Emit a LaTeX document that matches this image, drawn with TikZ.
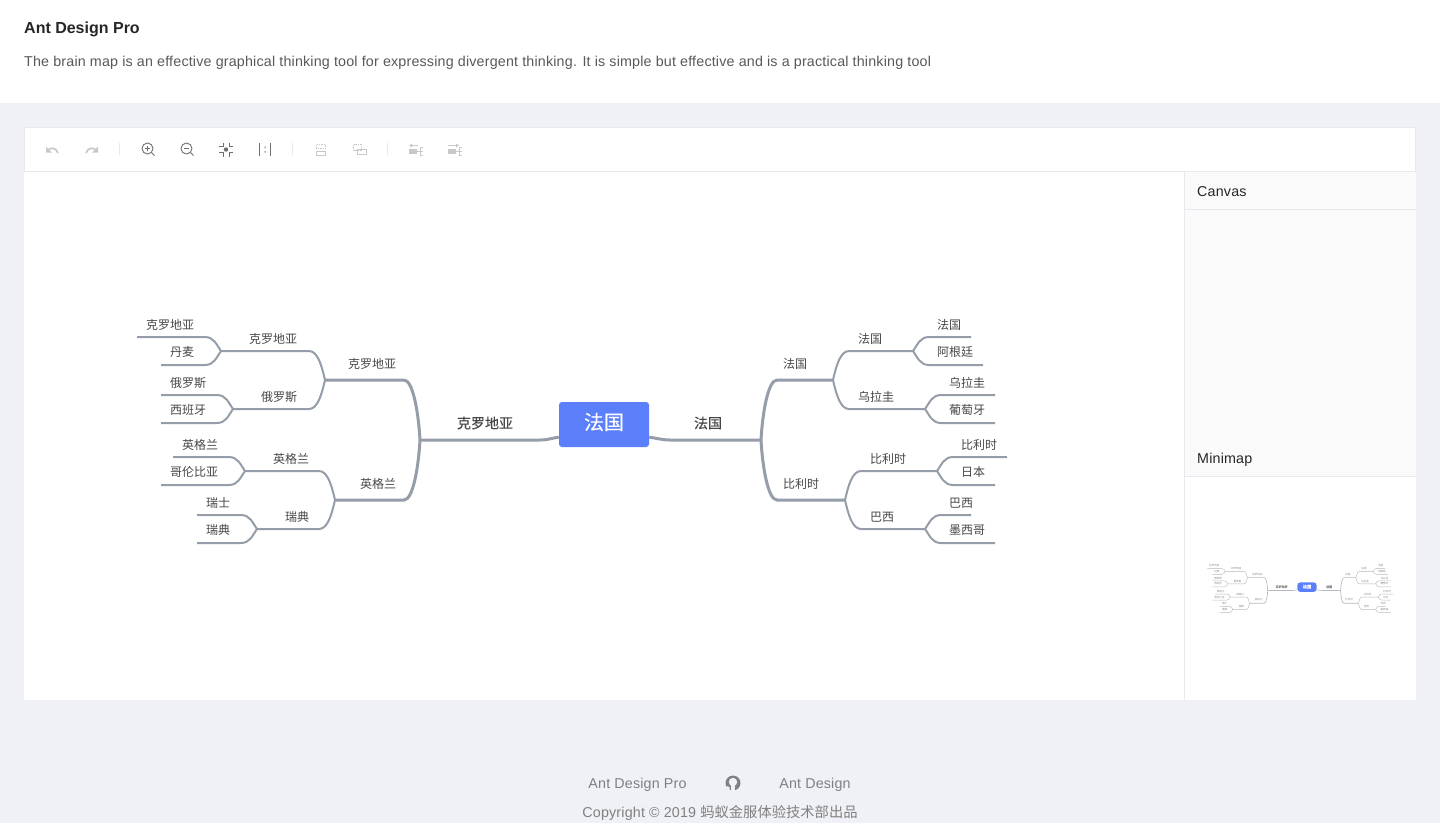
\documentclass[tikz,border=0pt]{standalone}
\usepackage{fontspec}
\setmainfont{Liberation Sans}
\newfontfamily\bodyfont[LetterSpace=1.25]{Liberation Sans}
\newfontfamily\cjk{Noto Sans CJK SC}
\newfontfamily\cjkmed[FakeBold=0.25]{Noto Sans CJK SC}
\usetikzlibrary{calc}

\definecolor{pagebg}{HTML}{F0F1F6}
\definecolor{panelbg}{HTML}{FAFAFA}
\definecolor{rule}{HTML}{E8E9EE}
\definecolor{limbcol}{HTML}{959DA8}
\definecolor{rootcol}{HTML}{5B7FFB}
\definecolor{inkdark}{HTML}{262626}
\definecolor{inkmid}{HTML}{595959}
\definecolor{inkfoot}{HTML}{808080}
\definecolor{iconon}{HTML}{707070}
\definecolor{iconoff}{HTML}{C8C8C8}

\tikzstyle{rootbox} = [rectangle, rounded corners=3pt, minimum width=90pt, minimum height=45pt, inner sep=0pt, fill=rootcol, text=white, font=\cjkmed\fontsize{20}{20}\selectfont]
\tikzstyle{mainlabel} = [inner sep=0pt, text=black!\mapink, font=\cjkmed\fontsize{14}{14}\selectfont]
\tikzstyle{sublabel} = [inner sep=0pt, text=black!\mapink, font=\cjk\fontsize{12}{12}\selectfont]
\tikzstyle{heavylimb} = [draw=limbcol!\mapfade, line width=3pt*\mapscale]
\tikzstyle{lightlimb} = [draw=limbcol!\mapfade, line width=2pt*\mapscale]
\tikzstyle{pagetext} = [inner sep=0pt, anchor=west, font=\bodyfont\fontsize{14.3}{14.3}\selectfont]
\tikzstyle{iconline} = [draw=iconon, line width=.9pt]
\tikzstyle{offline} = [draw=iconoff, line width=1pt]

% curved branch from a hub to the start of a straight run, #5 sets how fast it leaves the hub
\newcommand{\limb}[5]{\draw [#1] (#2) .. controls ($(#2)!0.45!(#2 |- #3)+(#4*#5,0)$) and ($(#2 |- #3)+(#4*7,0)$) .. ($(#2 |- #3)+(#4*16,0)$) -- (#3);}

\newcommand{\brainmap}{
    \coordinate (lefthub) at (420,440);
    \coordinate (righthub) at (761,440);
    \coordinate (croatia) at (325,380);
    \coordinate (england) at (335,500);
    \coordinate (croatiasub) at (221,351);
    \coordinate (russia) at (233,409);
    \coordinate (englandsub) at (245,471);
    \coordinate (sweden) at (257,529);
    \coordinate (croatialeaf) at (137,337);
    \coordinate (denmark) at (161,365);
    \coordinate (russialeaf) at (161,395);
    \coordinate (spain) at (161,423);
    \coordinate (englandleaf) at (173,457);
    \coordinate (colombia) at (161,485);
    \coordinate (swiss) at (197,515);
    \coordinate (swedenleaf) at (197,543);
    \coordinate (france) at (833,380);
    \coordinate (belgium) at (845,500);
    \coordinate (francesub) at (913,351);
    \coordinate (uruguay) at (925,409);
    \coordinate (belgiumsub) at (937,471);
    \coordinate (brazil) at (925,529);
    \coordinate (franceleaf) at (971,337);
    \coordinate (argentina) at (983,365);
    \coordinate (uruguayleaf) at (995,395);
    \coordinate (portugal) at (995,423);
    \coordinate (belgiumleaf) at (1007,457);
    \coordinate (japan) at (995,485);
    \coordinate (brazilleaf) at (971,515);
    \coordinate (mexico) at (995,543);

    \node (root) [rootbox] at (604,424.5) {};

    \draw [heavylimb] ([yshift=10pt]root.south west) .. controls +(-8,1) and +(8,0) .. ($(lefthub)+(120,0)$) -- (lefthub);
    \draw [heavylimb] ([yshift=10pt]root.south east) .. controls +(8,1) and +(-8,0) .. ($(righthub)+(-91,0)$) -- (righthub);
    \limb{heavylimb}{lefthub}{croatia}{-1}{1.5}
    \limb{heavylimb}{lefthub}{england}{-1}{1.5}
    \limb{heavylimb}{righthub}{france}{1}{1.5}
    \limb{heavylimb}{righthub}{belgium}{1}{1.5}
    \limb{lightlimb}{croatia}{croatiasub}{-1}{3}
    \limb{lightlimb}{croatia}{russia}{-1}{3}
    \limb{lightlimb}{england}{englandsub}{-1}{3}
    \limb{lightlimb}{england}{sweden}{-1}{3}
    \limb{lightlimb}{france}{francesub}{1}{3}
    \limb{lightlimb}{france}{uruguay}{1}{3}
    \limb{lightlimb}{belgium}{belgiumsub}{1}{3}
    \limb{lightlimb}{belgium}{brazil}{1}{3}
    \limb{lightlimb}{croatiasub}{croatialeaf}{-1}{4.5}
    \limb{lightlimb}{croatiasub}{denmark}{-1}{4.5}
    \limb{lightlimb}{russia}{russialeaf}{-1}{4.5}
    \limb{lightlimb}{russia}{spain}{-1}{4.5}
    \limb{lightlimb}{englandsub}{englandleaf}{-1}{4.5}
    \limb{lightlimb}{englandsub}{colombia}{-1}{4.5}
    \limb{lightlimb}{sweden}{swiss}{-1}{4.5}
    \limb{lightlimb}{sweden}{swedenleaf}{-1}{4.5}
    \limb{lightlimb}{francesub}{franceleaf}{1}{4.5}
    \limb{lightlimb}{francesub}{argentina}{1}{4.5}
    \limb{lightlimb}{uruguay}{uruguayleaf}{1}{4.5}
    \limb{lightlimb}{uruguay}{portugal}{1}{4.5}
    \limb{lightlimb}{belgiumsub}{belgiumleaf}{1}{4.5}
    \limb{lightlimb}{belgiumsub}{japan}{1}{4.5}
    \limb{lightlimb}{brazil}{brazilleaf}{1}{4.5}
    \limb{lightlimb}{brazil}{mexico}{1}{4.5}

    \node (roottext) [rootbox, fill=none, minimum width=0pt, minimum height=0pt] at (604,422) {法国};
    \node (lefttext) [mainlabel] at (485,423) {克罗地亚};
    \node (righttext) [mainlabel] at (708,423) {法国};
    \node (croatiatext) [sublabel] at (372,364) {克罗地亚};
    \node (englandtext) [sublabel] at (378,483.5) {英格兰};
    \node (francetext) [sublabel] at (795,364) {法国};
    \node (belgiumtext) [sublabel] at (801,483.5) {比利时};
    \node (croatiasubtext) [sublabel] at (273,339) {克罗地亚};
    \node (russiatext) [sublabel] at (279,397) {俄罗斯};
    \node (englandsubtext) [sublabel] at (291,459) {英格兰};
    \node (swedentext) [sublabel] at (297,517) {瑞典};
    \node (francesubtext) [sublabel] at (870,339) {法国};
    \node (uruguaytext) [sublabel] at (876,397) {乌拉圭};
    \node (belgiumsubtext) [sublabel] at (888,459) {比利时};
    \node (braziltext) [sublabel] at (882,517) {巴西};
    \node (croatialeaftext) [sublabel] at (170,325) {克罗地亚};
    \node (denmarktext) [sublabel] at (182,352) {丹麦};
    \node (russialeaftext) [sublabel] at (188,383) {俄罗斯};
    \node (spaintext) [sublabel] at (188,410) {西班牙};
    \node (englandleaftext) [sublabel] at (200,445) {英格兰};
    \node (colombiatext) [sublabel] at (194,472) {哥伦比亚};
    \node (swisstext) [sublabel] at (218,503) {瑞士};
    \node (swedenleaftext) [sublabel] at (218,530) {瑞典};
    \node (franceleaftext) [sublabel] at (949,325) {法国};
    \node (argentinatext) [sublabel] at (955,352) {阿根廷};
    \node (uruguayleaftext) [sublabel] at (967,383) {乌拉圭};
    \node (portugaltext) [sublabel] at (967,410) {葡萄牙};
    \node (belgiumleaftext) [sublabel] at (979,445) {比利时};
    \node (japantext) [sublabel] at (973,472) {日本};
    \node (brazilleaftext) [sublabel] at (961,503) {巴西};
    \node (mexicotext) [sublabel] at (967,530) {墨西哥};
}

\begin{document}
\begin{tikzpicture}[x=1pt, y=-1pt]
    \useasboundingbox (0,0) rectangle (1440,823);
    % page and panels
    \fill [pagebg] (0,0) rectangle (1440,823);
    \fill [white] (0,0) rectangle (1440,103);
    \fill [white] (24,172) rectangle (1185,700);
    \fill [panelbg] (1185,172) rectangle (1416,477);
    \fill [white] (1185,477) rectangle (1416,700);
    \draw [rule, fill=white] (24.5,127.5) rectangle (1415.5,171.5);
    \draw [rule] (1184.5,172) -- (1184.5,700);
    \draw [rule] (1185,209.5) -- (1416,209.5);
    \draw [rule] (1185,476.5) -- (1416,476.5);

    \node (title) [pagetext, text=inkdark, font=\rmfamily\fontsize{16}{16}\selectfont\bfseries] at (24,29) {Ant Design Pro};
    \node (desc) [pagetext, text=inkmid] at (24,63) {The brain map is an effective graphical thinking tool for expressing divergent thinking. It is simple but effective and is a practical thinking tool};
    \node (canvastitle) [pagetext, text=inkdark] at (1197,192) {Canvas};
    \node (minimaptitle) [pagetext, text=inkdark] at (1197,460) {Minimap};

    % toolbar
    \draw [rule] (119.5,143) -- (119.5,155);
    \draw [rule] (292.5,143) -- (292.5,155);
    \draw [rule] (387.5,143) -- (387.5,155);
    \draw [offline, line width=1.7pt] (58,153) .. controls (56,147.5) and (51,147) .. (48,150);
    \fill [iconoff] (46,146.5) -- (46,152.5) -- (52,152.5) -- cycle;
    \draw [offline, line width=1.7pt] (86,153) .. controls (88,147.5) and (93,147) .. (96,150);
    \fill [iconoff] (98,146.5) -- (98,152.5) -- (92,152.5) -- cycle;
    \draw [iconline] (147.5,148.5) circle (5.5);
    \draw [iconline] (151.5,152.5) -- (154.5,155.5) (145,148.5) -- (150,148.5) (147.5,146) -- (147.5,151);
    \draw [iconline] (186.5,148.5) circle (5.5);
    \draw [iconline] (190.5,152.5) -- (193.5,155.5) (184,148.5) -- (189,148.5);
    \fill [iconon] (226,149.5) circle (2.2);
    \draw [iconline] (219,146.5) -- (223,146.5) -- (223,142.5) (229,142.5) -- (229,146.5) -- (233,146.5) (219,152.5) -- (223,152.5) -- (223,156.5) (229,156.5) -- (229,152.5) -- (233,152.5);
    \draw [iconline] (259.5,143) -- (259.5,156) (270.5,143) -- (270.5,156);
    \fill [iconon] (264.5,146.5) rectangle (265.5,148) (264.5,151) rectangle (265.5,152.5);
    \draw [offline, dash pattern=on 1.5pt off 1pt] (316.5,144.5) rectangle (325.5,148.5);
    \draw [offline] (316.5,151.5) rectangle (325.5,155.5);
    \draw [offline, dash pattern=on 1.5pt off 1pt] (353.5,144.5) rectangle (361.5,150.5);
    \draw [offline] (357.5,149.5) rectangle (366.5,154.5);
    \fill [iconoff] (409,149) rectangle (417,154);
    \draw [offline] (417,151.5) -- (420,151.5) (423,147.5) -- (420,147.5) -- (420,155.5) -- (423,155.5) (420,151.5) -- (423,151.5);
    \draw [offline] (411,145.5) -- (418,145.5);
    \fill [iconoff] (409,145.5) -- (412,143.5) -- (412,147.5) -- cycle;
    \fill [iconoff] (448,149) rectangle (456,154);
    \draw [offline] (456,151.5) -- (459,151.5) (462,147.5) -- (459,147.5) -- (459,155.5) -- (462,155.5) (459,151.5) -- (462,151.5);
    \draw [offline] (448,145.5) -- (456,145.5);
    \fill [iconoff] (459,145.5) -- (456,143.5) -- (456,147.5) -- cycle;

    % main map
    \def\mapscale{1}
    \def\mapink{72}
    \def\mapfade{100}
    \brainmap

    % minimap
    \begin{scope}[name prefix=mini, shift={(1307,587)}, scale=.2135, transform shape, shift={(-604,-424)}]
        \def\mapscale{.2135}
        \def\mapink{45}
        \def\mapfade{70}
        \brainmap
    \end{scope}

    % footer
    \node (footpro) [pagetext, anchor=center, text=inkfoot] at (637.5,785) {Ant Design Pro};
    \node (footant) [pagetext, anchor=center, text=inkfoot] at (815,785) {Ant Design};
    \node (footcopy) [pagetext, anchor=center, text=inkfoot] at (720,813) {Copyright © 2019 {\cjk 蚂蚁金服体验技术部出品}};
    \fill [inkfoot] (733,783) circle (7.5);
    \fill [pagebg] (733,782) circle (4.2);
    \fill [pagebg] (731,784) rectangle (735,791);
    \fill [pagebg] (726.5,786) -- (729.5,787) -- (729.5,791) -- (727,789) -- cycle;
\end{tikzpicture}
\end{document}
